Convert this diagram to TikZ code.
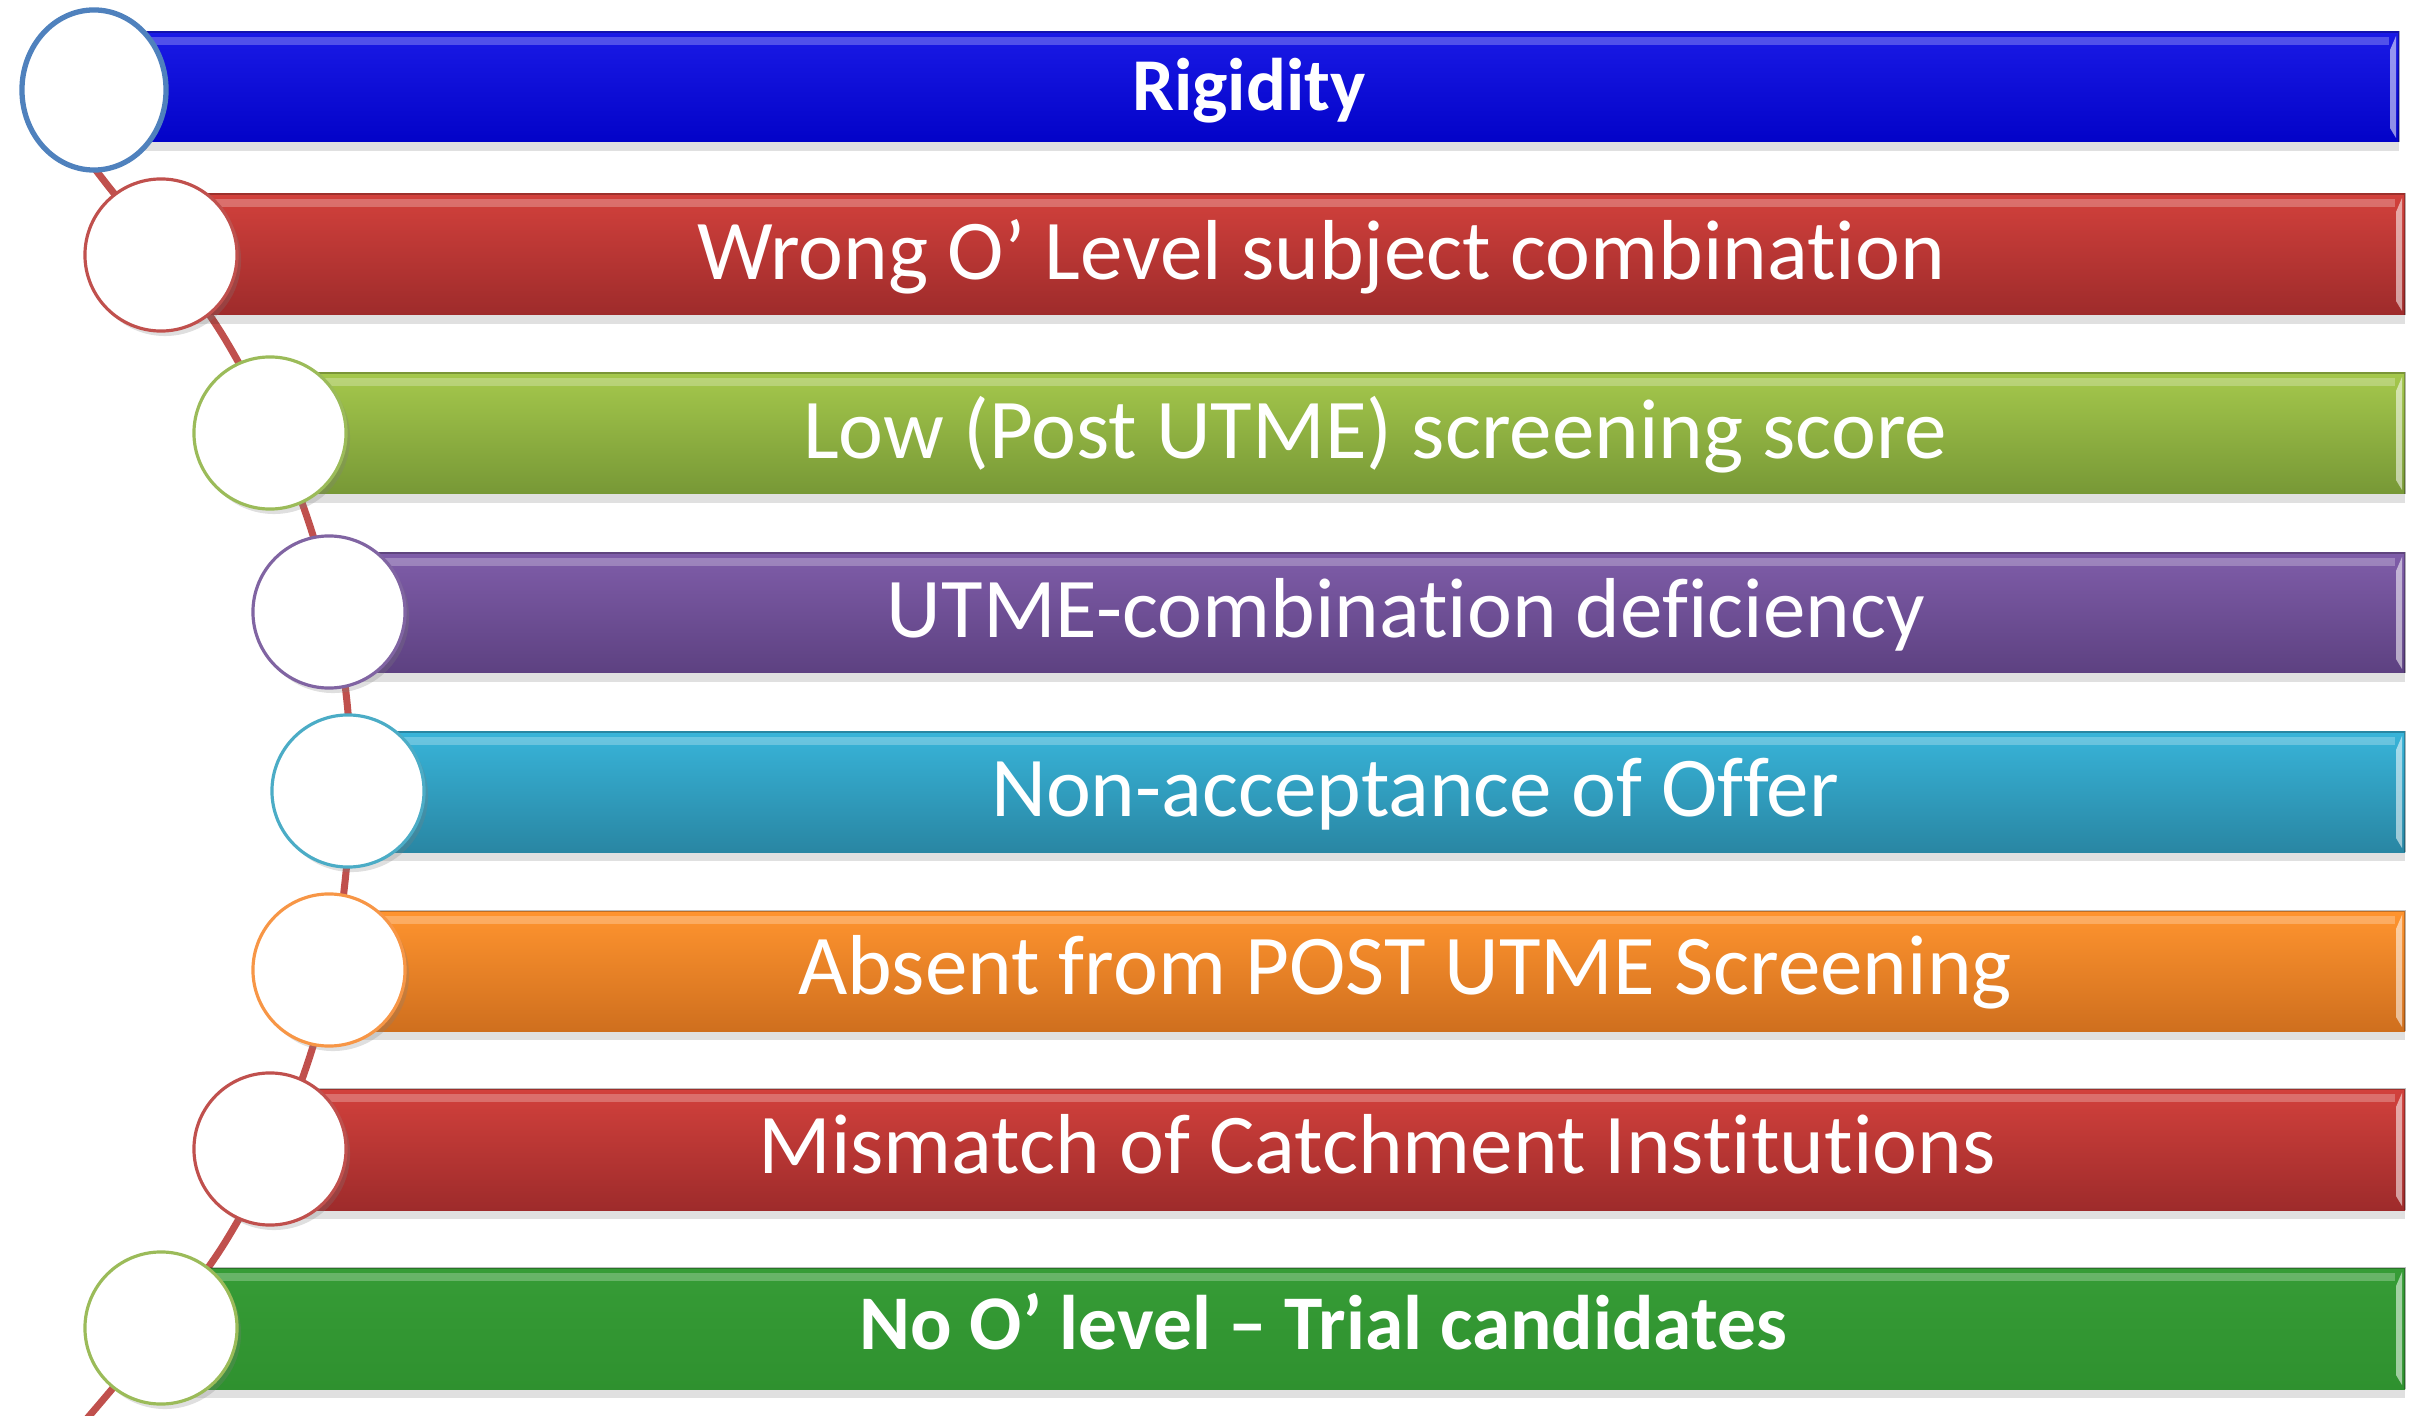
\documentclass[tikz,border=0pt]{standalone}
\usepackage{fontspec}
\setmainfont[Ligatures=NoCommon,Contextuals=NoAlternate]{Carlito}
\usetikzlibrary{shapes.geometric,shadows}
\newcommand\nolig{\kern0pt\relax}
\definecolor{blueA}{HTML}{1A1AE6}\definecolor{blueB}{HTML}{0303C8}
\definecolor{redA}{HTML}{D2413C}\definecolor{redB}{HTML}{9E2B2B}
\definecolor{grnA}{HTML}{A5C84C}\definecolor{grnB}{HTML}{779836}
\definecolor{purA}{HTML}{7F5DA9}\definecolor{purB}{HTML}{5D4181}
\definecolor{cyaA}{HTML}{38B4D9}\definecolor{cyaB}{HTML}{2986A3}
\definecolor{oraA}{HTML}{FF942F}\definecolor{oraB}{HTML}{CF6F1E}
\definecolor{dgA}{HTML}{369C36}\definecolor{dgB}{HTML}{2F912F}
\definecolor{lineRed}{HTML}{C0504D}
\definecolor{bdBlue}{HTML}{4F81BD}\definecolor{bdRed}{HTML}{C0504D}
\definecolor{bdGrn}{HTML}{9BBB59}\definecolor{bdPur}{HTML}{8064A2}
\definecolor{bdCya}{HTML}{4BACC6}\definecolor{bdOra}{HTML}{F79646}
\newcommand\cbar[6]{% top, bottom, left, right, topcolor, bottomcolor
  \fill[black,opacity=0.12] (#3,#2) rectangle (#4,#2+9);
  \shade[top color=#5,bottom color=#6] (#3,#1) rectangle (#4,#2);
  \fill[white,opacity=0.25] (#3,#1+5) rectangle (#4-10,#1+13);
  \fill[white,opacity=0.55] (#4-9,#1+18) -- (#4-3,#1+4) -- (#4-3,#2-4) -- (#4-9,#2-14) -- cycle;
  \draw[black,opacity=0.25,line width=0.4pt] (#3,#1) -- (#4,#1) -- (#4,#2);
}
\tikzset{
  circ/.style={circle,fill=white,draw=#1,line width=0.9pt,minimum size=1.52cm,inner sep=0pt,
    drop shadow={opacity=0.25,shadow xshift=0.04cm,shadow yshift=-0.05cm}},
  lbl/.style={anchor=base,text=white,font=\fontsize{24.2}{29}\selectfont,inner sep=0pt},
  blbl/.style={anchor=base,text=white,font=\bfseries\fontsize{21.2}{25}\selectfont,inner sep=0pt}
}
\begin{document}
\begin{tikzpicture}[x=0.01cm,y=-0.01cm]
\useasboundingbox (0,0) rectangle (2409,1416);
% curve behind everything
\coordinate (p0) at (70,138);
\coordinate (p1) at (105,182);
\coordinate (p2) at (225,339);
\coordinate (p3) at (308,520);
\coordinate (p4) at (347,702);
\coordinate (p5) at (345,882);
\coordinate (p6) at (308,1062);
\coordinate (p7) at (224,1244);
\coordinate (p8) at (84,1422);
\draw[lineRed,line width=2pt] plot[smooth,tension=0.6] coordinates {(p0) (p1) (p2) (p3) (p4) (p5) (p6) (p7) (p8)};
% bars
\cbar{32}{142}{94}{2399}{blueA}{blueB}
\cbar{194}{315}{161}{2405}{redA}{redB}
\cbar{373}{494}{270}{2405}{grnA}{grnB}
\cbar{553}{673}{329}{2405}{purA}{purB}
\cbar{732}{852}{348}{2405}{cyaA}{cyaB}
\cbar{911}{1031}{329}{2405}{oraA}{oraB}
\cbar{1089}{1210}{270}{2405}{redA}{redB}
\cbar{1268}{1389}{161}{2405}{dgA}{dgB}
% circles
\node[ellipse,fill=white,draw=bdBlue,line width=1.5pt,minimum width=1.44cm,minimum height=1.60cm,inner sep=0pt] (c1) at (94,90) {};
\node[circ=bdRed] (c2) at (161,255) {};
\node[circ=bdGrn] (c3) at (270,433) {};
\node[circ=bdPur] (c4) at (329,612) {};
\node[circ=bdCya] (c5) at (348,791) {};
\node[circ=bdOra] (c6) at (329,970) {};
\node[circ=bdRed] (c7) at (270,1149) {};
\node[circ=bdGrn] (c8) at (161,1328) {};
% labels
\node[blbl] (t1) at (1249,111) {Rigidity};
\node[lbl] (t2) at (1321,280) {Wrong O’ Level subject combinat\nolig ion};
\node[lbl] (t3) at (1375,459) {Low (Post UTME) screening score};
\node[lbl] (t4) at (1406,638) {UTME-combinat\nolig ion def\nolig iciency};
\node[lbl] (t5) at (1415,816) {Non-acceptance of Offer};
\node[lbl] (t6) at (1405,994) {Absent from POST UTME Screening};
\node[lbl] (t7) at (1377,1173) {Mismatch of Catchment Inst\nolig itut\nolig ions};
\node[blbl,font=\bfseries\fontsize{22}{26}\selectfont] (t8) at (1323,1349) {No O’ level – Trial candidates};
\end{tikzpicture}
\end{document}
